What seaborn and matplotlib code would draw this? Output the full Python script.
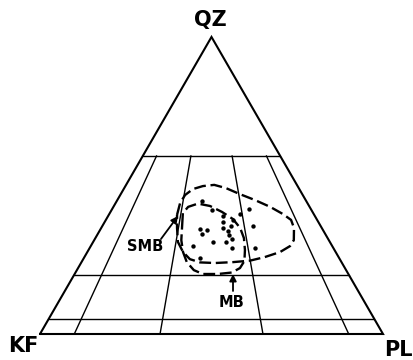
import numpy as np
import pandas as pd
import matplotlib
matplotlib.use("Agg")
import matplotlib.pyplot as plt
import seaborn as sns

sns.set_style("white")
plt.rcParams['font.family'] = ['DejaVu Sans']
plt.rcParams['text.color'] = 'black'

# corner labels of the QAP triangle
corner_labels = ["QZ", "KF", "PL"]

# field boundaries (Streckeisen): quartz levels and plagioclase ratios P/(A+P)
q_levels = [0.60, 0.20, 0.05]
p_ratios = [0.10, 0.35, 0.65, 0.90]

# samples (% quartz, % plagioclase)
pts_q = [44.9, 41.6, 40.4, 42.2, 39.7, 37.8, 38.4, 35.5, 34.9, 33.6, 35.6,
         34.8, 36.2, 33.3, 36.4, 31.0, 31.0, 32.1, 29.6, 28.8, 29.1, 25.5]
pts_p = [24.9, 29.2, 38.1, 39.8, 33.6, 34.5, 37.0, 28.9, 31.1, 30.5, 35.5,
         37.3, 37.7, 38.5, 43.9, 34.8, 38.6, 39.8, 29.9, 41.5, 48.2, 33.8]

# outline of the SMB field (large dashed loop)
smb_q = [40.1, 44.1, 46.8, 48.8, 49.8, 50.2, 49.1, 47.1, 45.1, 42.8, 40.4, 38.4,
         35.7, 31.6, 29.6, 27.6, 25.9, 24.7, 24.2, 23.9, 24.1, 25.2, 27.6, 31.0, 35.7]
smb_p = [19.9, 18.8, 18.9, 20.2, 22.6, 25.7, 29.7, 34.7, 40.1, 45.7, 50.6, 54.0,
         56.2, 58.2, 58.1, 56.2, 52.6, 48.9, 44.2, 39.1, 34.6, 31.1, 27.9, 24.7, 22.1]

# outline of the MB field (smaller dashed loop)
mb_q = [36.7, 40.7, 42.8, 43.9, 43.1, 41.1, 38.7, 35.7, 32.3, 28.3, 24.6, 22.2,
        20.7, 20.2, 20.2, 21.5, 24.2, 27.6, 31.6]
mb_p = [23.1, 21.3, 21.8, 24.1, 28.0, 32.5, 36.9, 40.5, 43.3, 45.6, 47.3, 47.2,
        45.6, 41.8, 37.4, 34.1, 30.7, 27.9, 25.4]

H = np.sqrt(3) / 2


def tern(q, p):
    # q, p as fractions -> cartesian, KF at (0,0), PL at (1,0), QZ at (0.5, H)
    q = np.asarray(q, dtype=float)
    p = np.asarray(p, dtype=float)
    return p + q / 2, q * H


fig = plt.figure(figsize=(4.14, 3.6), dpi=100)
ax = fig.add_axes([0, 0, 1, 1])

# outer triangle
tx, ty = tern([0, 0, 1, 0], [0, 1, 0, 0])
ax.plot(tx, ty, color="black", lw=1.5, solid_joinstyle="miter")

# horizontal quartz lines
for q in q_levels:
    x0, y0 = tern(q, 0)
    x1, y1 = tern(q, 1 - q)
    ax.plot([x0, x1], [y0, y1], color="black", lw=1.0)

# ratio lines from Q=60 down to the base
for r in p_ratios:
    qa = q_levels[0]
    x0, y0 = tern(qa, (1 - qa) * r)
    x1, y1 = tern(0, r)
    ax.plot([x0, x1], [y0, y1], color="black", lw=1.0)

# dashed field outlines
for lq, lp in [(smb_q, smb_p), (mb_q, mb_p)]:
    lx, ly = tern(np.array(lq + lq[:1]) / 100, np.array(lp + lp[:1]) / 100)
    ax.plot(lx, ly, color="black", lw=1.7, linestyle=(0, (5, 2)),
            dash_capstyle="butt")

# sample points
px, py = tern(np.array(pts_q) / 100, np.array(pts_p) / 100)
df = pd.DataFrame({"x": px, "y": py})
sns.scatterplot(data=df, x="x", y="y", ax=ax, color="black", s=10,
                linewidth=0, legend=False)

# labels
lab = dict(color="black", fontweight="bold", ha="center", va="center")
ax.text(0.4956, 0.9155, corner_labels[0], fontsize=15, **lab)
ax.text(-0.048, -0.036, corner_labels[1], fontsize=15, **lab)
ax.text(1.044, -0.047, corner_labels[2], fontsize=15, **lab)

ax.annotate("", xy=(0.4023, 0.3440), xytext=(0.3527, 0.2770),
            arrowprops=dict(arrowstyle="-|>", color="black", lw=1.3,
                            mutation_scale=10, shrinkA=0, shrinkB=0))
ax.text(0.3076, 0.2551, "SMB", fontsize=10.5, **lab)

ax.annotate("", xy=(0.5627, 0.1749), xytext=(0.5627, 0.1254),
            arrowprops=dict(arrowstyle="-|>", color="black", lw=1.3,
                            mutation_scale=10, shrinkA=0, shrinkB=0))
ax.text(0.5583, 0.0904, "MB", fontsize=10.5, **lab)

ax.set_xlim(-40 / 343, 374 / 343)
ax.set_ylim(-26 / 343, 334 / 343)
ax.axis("off")

fig.savefig("out.png", dpi=100)
